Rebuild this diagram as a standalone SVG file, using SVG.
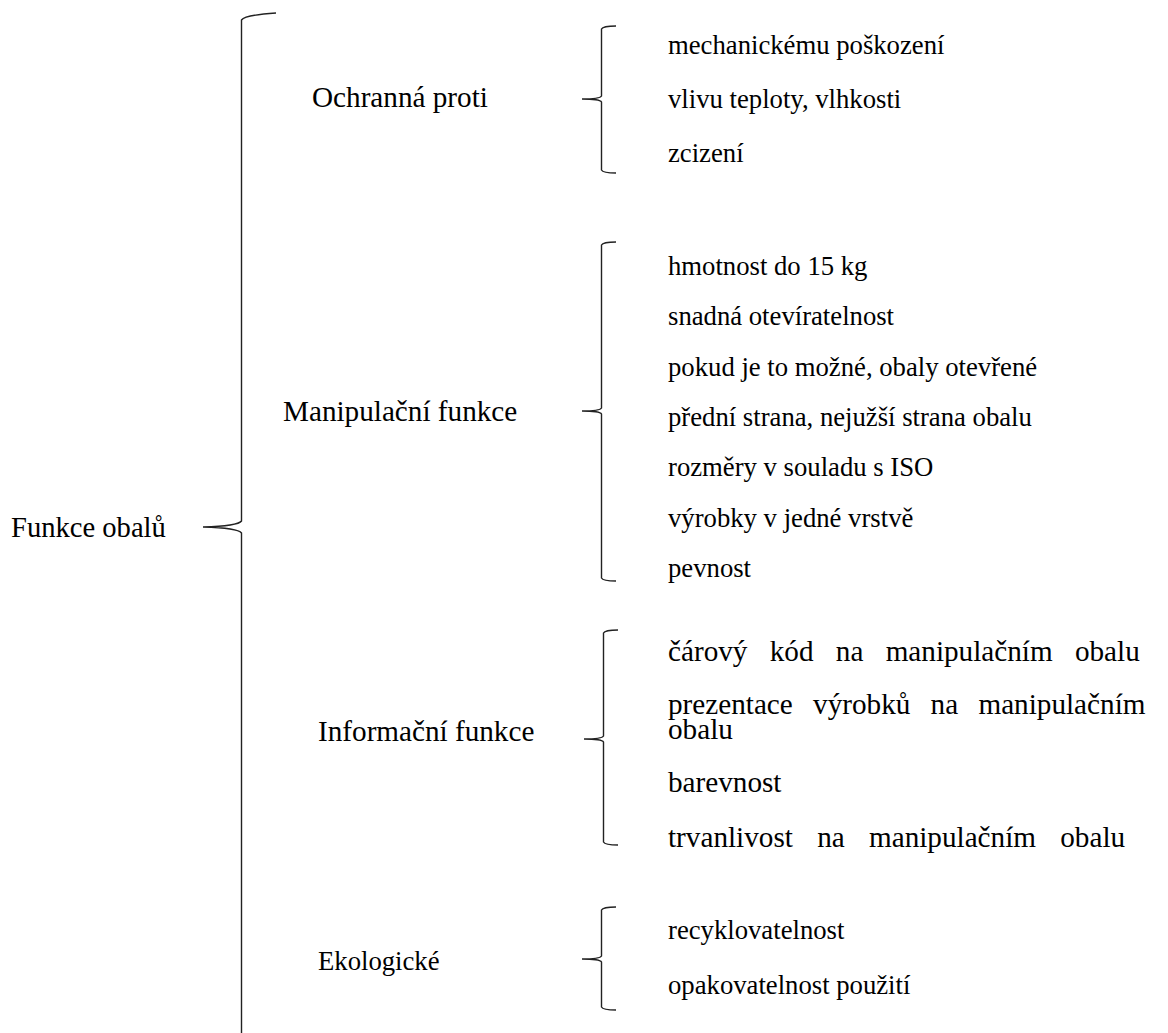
<svg xmlns="http://www.w3.org/2000/svg" width="1168" height="1033" viewBox="0 0 1168 1033">
<style>
text{font-family:'Liberation Serif','Tinos','Times New Roman','DejaVu Serif',serif;font-size:26.7px;fill:#000}
.L{font-size:29.2px}
.b{fill:none;stroke:#222;stroke-width:1.4}
</style>
<rect width="1168" height="1033" fill="#fff"/>
<g id="root"><text x="11" y="537" style="font-size:28.6px">Funkce obalů</text></g>
<g id="connectors">
<path class="b" d="M276,13 Q245,15 241.5,20 V521 Q238,526 203,527 Q238,528 241.5,533 V1033"/>
<path class="b" d="M616,26 Q603,26 601.5,29 V96 Q600,99 582,99 Q600,99 601.5,102 V170 Q603,173 616,173"/>
<path class="b" d="M616,242 Q603,242 601.5,245 V408 Q600,411 582,411 Q600,411 601.5,414 V578 Q603,581 616,581"/>
<path class="b" d="M618,630 Q605,630 603.5,633 V736 Q602,739 584,739 Q602,739 603.5,742 V842 Q605,845 618,845"/>
<path class="b" d="M616,907 Q603,907 601.5,910 V956 Q600,959 582,959 Q600,959 601.5,962 V1007 Q603,1010 616,1010"/>
</g>
<g id="ochranna">
<text class="L" x="312" y="107">Ochranná proti</text>
<text x="668" y="54">mechanickému poškození</text>
<text x="668" y="108">vlivu teploty, vlhkosti</text>
<text x="668" y="162">zcizení</text>
</g>
<g id="manipulacni">
<text class="L" x="283" y="421">Manipulační funkce</text>
<text x="668" y="275">hmotnost do 15 kg</text>
<text x="668" y="325">snadná otevíratelnost</text>
<text x="668" y="376">pokud je to možné, obaly otevřené</text>
<text x="668" y="426">přední strana, nejužší strana obalu</text>
<text x="668" y="476">rozměry v souladu s ISO</text>
<text x="668" y="527">výrobky v jedné vrstvě</text>
<text x="668" y="577">pevnost</text>
</g>
<g id="informacni">
<text class="L" x="318" y="741">Informační funkce</text>
<text class="L" x="668" y="661" word-spacing="15">čárový kód na manipulačním obalu</text>
<text class="L" x="668" y="714" word-spacing="13">prezentace výrobků na manipulačním</text>
<text class="L" x="668" y="739">obalu</text>
<text class="L" x="668" y="792">barevnost</text>
<text class="L" x="668" y="847" word-spacing="17">trvanlivost na manipulačním obalu</text>
</g>
<g id="ekologicke">
<text x="318" y="970">Ekologické</text>
<text x="668" y="939">recyklovatelnost</text>
<text x="668" y="994">opakovatelnost použití</text>
</g>
</svg>
